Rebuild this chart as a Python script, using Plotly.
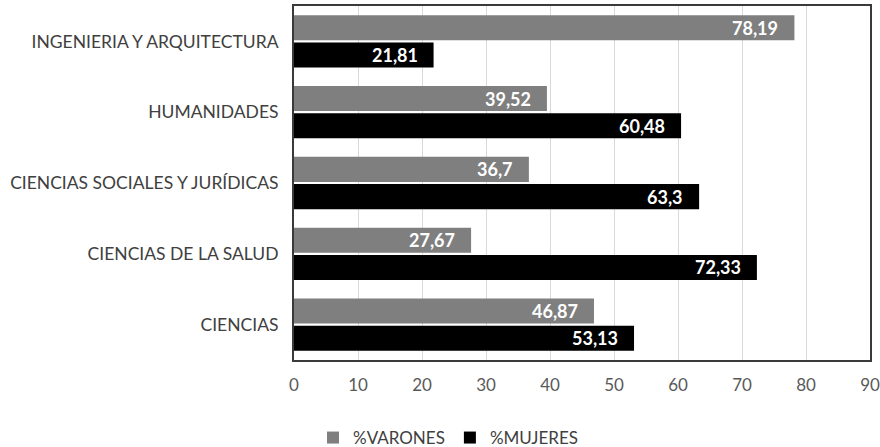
import plotly.graph_objects as go

# Ramas de conocimiento (de arriba abajo) y porcentaje por sexo
ramas = [
    "INGENIERIA Y ARQUITECTURA",
    "HUMANIDADES",
    "CIENCIAS SOCIALES Y JURÍDICAS",
    "CIENCIAS DE LA SALUD",
    "CIENCIAS",
]
varones = [78.19, 39.52, 36.7, 27.67, 46.87]
mujeres = [21.81, 60.48, 63.3, 72.33, 53.13]
x_ticks = [0, 10, 20, 30, 40, 50, 60, 70, 80, 90]

FONT = "Lato"
GRIS_TEXTO = "#404040"
BARGAP = 0.23
GROUPGAP = 0.08

series = [
    ("%VARONES", varones, "#7f7f7f"),
    ("%MUJERES", mujeres, "#000000"),
]


def etiqueta(v):
    return str(v).replace(".", ",")


fig = go.Figure()
for nombre, valores, color in series:
    fig.add_trace(go.Bar(
        y=ramas,
        x=valores,
        name=nombre,
        orientation="h",
        marker=dict(color=color, line=dict(width=0)),
        hoverinfo="x+y+name",
    ))

# Etiquetas de valor dentro del extremo de cada barra
slot = (1 - BARGAP) / len(series)
anotaciones = []
for k, (nombre, valores, color) in enumerate(series):
    desplazamiento = (k - (len(series) - 1) / 2) * slot
    for i, v in enumerate(valores):
        anotaciones.append(dict(
            x=v,
            y=i + desplazamiento,
            xref="x",
            yref="y",
            text=etiqueta(v),
            showarrow=False,
            xanchor="right",
            yanchor="middle",
            xshift=-14,
            font=dict(family=FONT, size=18, color="white", weight=700),
        ))

fig.update_layout(
    width=880,
    height=447,
    margin=dict(l=294, r=10, t=6, b=87, autoexpand=False),
    paper_bgcolor="white",
    plot_bgcolor="white",
    barmode="group",
    bargap=BARGAP,
    bargroupgap=GROUPGAP,
    font=dict(family=FONT, color=GRIS_TEXTO, size=17),
    annotations=anotaciones,
    showlegend=True,
    legend=dict(
        orientation="h",
        x=(313 - 294) / 576,
        xref="paper",
        xanchor="left",
        y=-78 / 354,
        yanchor="middle",
        font=dict(family=FONT, size=17, color=GRIS_TEXTO),
        itemwidth=30,
        traceorder="normal",
    ),
    xaxis=dict(
        range=[0, 90],
        tickvals=x_ticks,
        ticktext=[str(t) for t in x_ticks],
        showgrid=True,
        gridcolor="#d9d9d9",
        gridwidth=1,
        zeroline=False,
        showline=True,
        linecolor="#3a3a3a",
        linewidth=2,
        mirror=True,
        ticks="",
        ticklabelstandoff=9,
        tickfont=dict(family=FONT, size=17, color="#595959"),
    ),
    yaxis=dict(
        autorange="reversed",
        showgrid=False,
        showline=True,
        linecolor="#3a3a3a",
        linewidth=2,
        mirror=True,
        ticks="",
        ticklabelstandoff=10,
        tickfont=dict(family=FONT, size=17.5, color=GRIS_TEXTO),
    ),
)

fig.write_html("out.html")
